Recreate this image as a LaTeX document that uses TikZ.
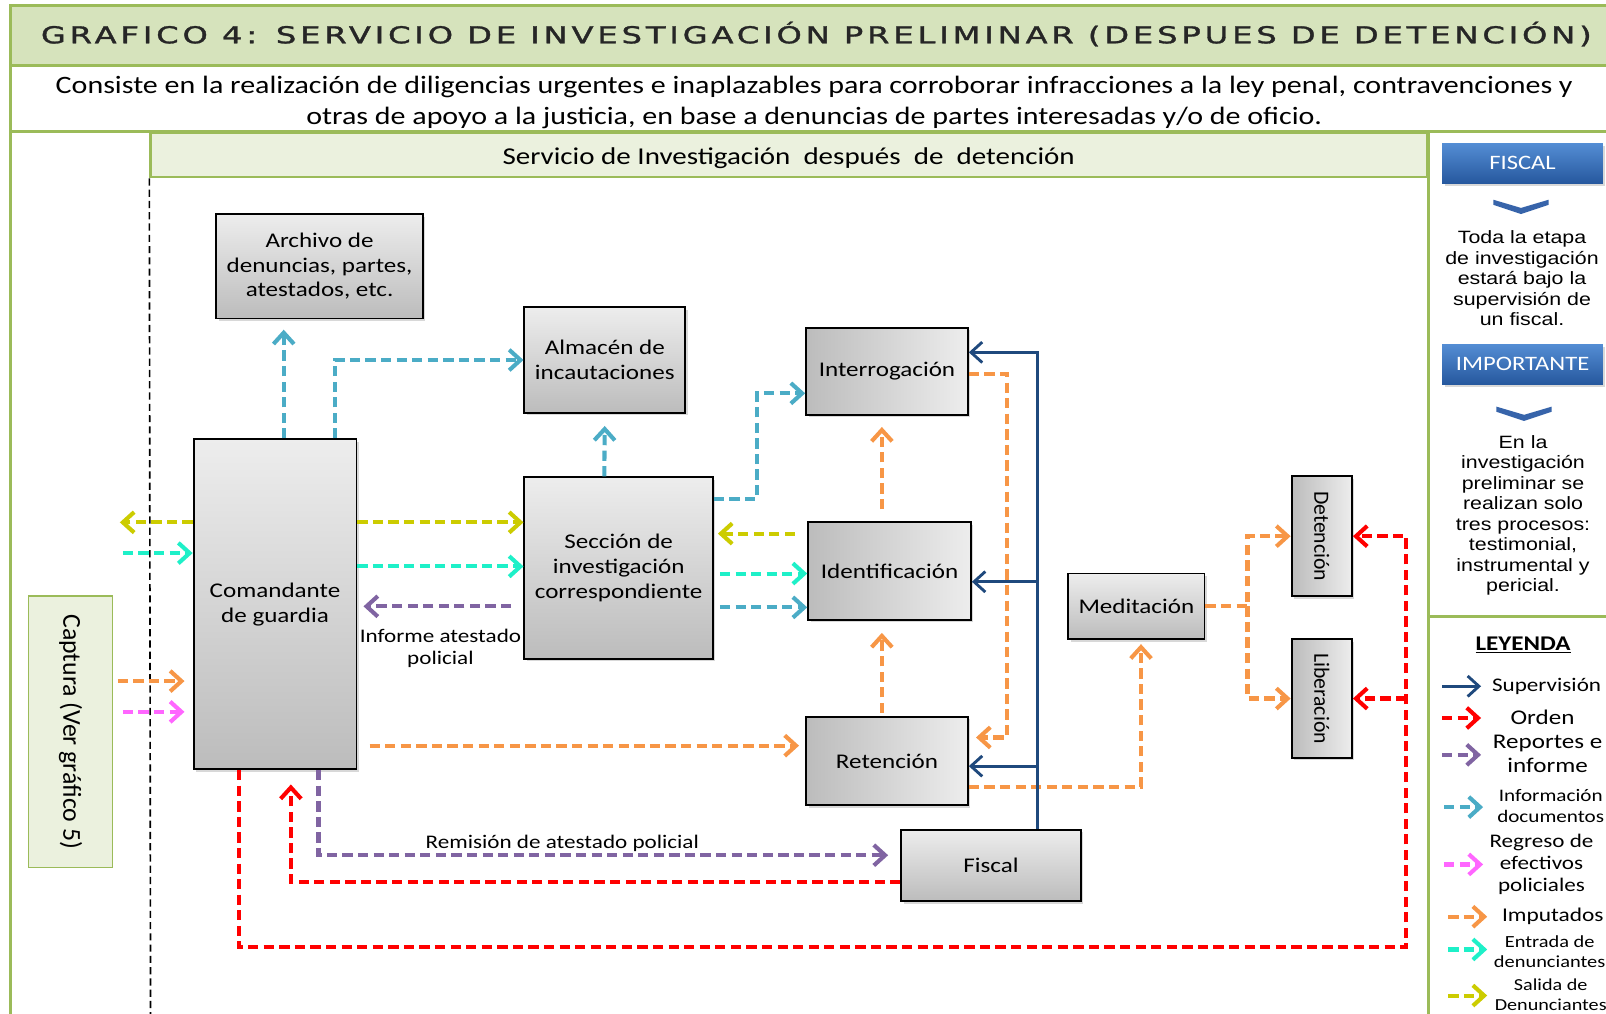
\documentclass[tikz,border=0pt]{standalone}
\usepackage{fontspec}
\usepackage{graphicx}
\setmainfont{Carlito}[FakeStretch=1.2]
\newfontfamily\plainfont{Carlito}
\newfontfamily\sidefont{Liberation Sans}[FakeStretch=1.2]
\newfontfamily\titlefont{DejaVu Sans}[LetterSpace=12,FakeBold=1.2]
\usetikzlibrary{arrows.meta,shadows}
\definecolor{gline}{RGB}{155,187,89}
\definecolor{bandgreen}{RGB}{214,227,188}
\definecolor{hdrgreen}{RGB}{235,241,222}
\definecolor{glight}{RGB}{237,237,237}
\definecolor{gdark}{RGB}{188,188,188}
\definecolor{cinfo}{RGB}{75,172,198}
\definecolor{csal}{RGB}{204,204,0}
\definecolor{cent}{RGB}{30,240,200}
\definecolor{crep}{RGB}{128,100,162}
\definecolor{cimp}{RGB}{247,150,70}
\definecolor{creg}{RGB}{255,102,255}
\definecolor{cord}{RGB}{255,0,0}
\definecolor{csup}{RGB}{31,73,125}
\definecolor{btntop}{RGB}{84,141,212}
\definecolor{btnbot}{RGB}{38,88,158}
\definecolor{chev}{RGB}{55,100,170}
\begin{document}
\begin{tikzpicture}[x=0.5pt,y=-0.5pt,
  gl/.style={draw=gline,line width=1.5pt},
  shad/.style={drop shadow={shadow xshift=1.2pt,shadow yshift=-1.2pt,opacity=0.3}},
  gbox/.style={draw=black,line width=0.9pt,inner sep=1pt,align=center,shad,
    font=\fontsize{10.2}{12}\selectfont},
  vsh/.style={top color=glight,bottom color=gdark},
  hsh/.style={left color=gdark,right color=glight},
  lk/.style={line width=2pt,dash pattern=on 5pt off 2.6pt,
    -{Straight Barb[length=5.5pt,width=10pt]}},
  info/.style={lk,draw=cinfo},
  sal/.style={lk,draw=csal},
  ent/.style={lk,draw=cent},
  rep/.style={lk,draw=crep},
  imp/.style={lk,draw=cimp},
  reg/.style={lk,draw=creg},
  ord/.style={lk,draw=cord},
  sup/.style={line width=1.4pt,draw=csup,-{Straight Barb[length=5.5pt,width=10pt]}},
  btn/.style={top color=btntop,bottom color=btnbot,text=white,shad,
    minimum width=78.5pt,minimum height=19.5pt,inner sep=0pt,
    font=\fontsize{10}{11}\selectfont},
  side/.style={align=center,inner sep=0pt,font=\sidefont\fontsize{8.7}{10}\selectfont},
  leg/.style={align=center,inner sep=0pt},
  lab/.style={align=center,inner sep=0pt}
]
\useasboundingbox (0,0) rectangle (1568,990);
\clip (0,0) rectangle (1568,990);
\fill[white] (0,0) rectangle (1568,990);

% frame
\filldraw[gl,fill=bandgreen] (10,5) rectangle (1600,64);
\draw[gl] (10,64) -- (10,1000);
\draw[gl] (10,128) -- (1600,128);
\draw[gl] (1395,128) -- (1395,1000);
\draw[gl] (1395,602) -- (1600,602);

\node[inner sep=0pt,text=black!85] (title) at (797,34)
  {\resizebox{757pt}{8.3pt}{\titlefont\rule{0pt}{.73em}\smash{GRAFICO 4: SERVICIO DE INVESTIGACIÓN PRELIMINAR (DESPUES DE DETENCIÓN)}}};
\node[lab,font=\fontsize{12.2}{15.5}\selectfont] (sub) at (795,100)
  {Consiste en la realización de diligencias urgentes e inaplazables para corroborar infracciones a la ley penal, contravenciones y\\
   otras de apoyo a la justicia, en base a denuncias de partes interesadas y/o de oficio.};

\node[draw=gline,fill=hdrgreen,line width=1.2pt,minimum width=623pt,minimum height=21.5pt,inner sep=0pt] (hdr) at (770,151.5) {};
\node[lab,font=\fontsize{11.8}{13}\selectfont] (hdrt) at (770,154)
  {Servicio de Investigación \ después \ de \ detención};
\draw[dash pattern=on 3.5pt off 2pt,line width=0.8pt] (hdr.south west) -- (147,1000);

% sidebar
\node[btn] (bfis) at (1486.5,159.5) {FISCAL};
\fill[chev] (1458,195) -- (1485,203) -- (1512,195) -- (1512,200) -- (1485,209) -- (1458,200) -- cycle;
\node[side] (tfis) at (1486,272) {Toda la etapa\\de investigación\\estará bajo la\\supervisión de\\un fiscal.};
\node[btn] (bimp) at (1486.5,355.5) {IMPORTANTE};
\fill[chev] (1461,397) -- (1488,405) -- (1515,397) -- (1515,402) -- (1488,411) -- (1461,402) -- cycle;
\node[side] (timp) at (1487,503) {En la\\investigación\\preliminar se\\realizan solo\\tres procesos:\\testimonial,\\instrumental y\\pericial.};

% legend
\node[leg,font=\bfseries\fontsize{10.2}{12}\selectfont] (ley) at (1487,630) {\underline{LEYENDA}};
\draw[sup] (1408,670) -- (1446,670);
\node[leg,font=\fontsize{9.4}{11}\selectfont] (l1) at (1510,670) {Supervisión};
\draw[ord] (1408,701) -- (1446,701);
\node[leg,font=\fontsize{10.2}{12}\selectfont] (l2) at (1506,700) {Orden};
\draw[rep] (1408,737) -- (1446,737);
\node[leg,font=\fontsize{10.2}{12}\selectfont] (l3) at (1511,736) {Reportes e\\informe};
\draw[info] (1410,788) -- (1448,788);
\node[leg,font=\fontsize{8.6}{10.5}\selectfont] (l4) at (1514,787) {Información\\documentos};
\draw[reg] (1410,844) -- (1448,844);
\node[leg,font=\fontsize{9.4}{10.8}\selectfont] (l5) at (1505,844) {Regreso de\\efectivos\\policiales};
\draw[imp] (1414,895) -- (1452,895);
\node[leg,font=\fontsize{9.5}{11}\selectfont] (l6) at (1516,895) {Imputados};
\draw[ent] (1414,927) -- (1452,927);
\node[leg,font=\fontsize{8.3}{10}\selectfont] (l7) at (1513,929) {Entrada de\\denunciantes};
\draw[sal] (1414,972) -- (1452,972);
\node[leg,font=\fontsize{8.2}{9.5}\selectfont] (l8) at (1514,971) {Salida de\\Denunciantes};

% nodes
\node[gbox,vsh,minimum width=101pt,minimum height=51pt] (arch) at (312,260) {Archivo de\\denuncias, partes,\\atestados, etc.};
\node[gbox,vsh,minimum width=78.5pt,minimum height=51.5pt] (alm) at (590.5,351.5) {Almacén de\\incautaciones};
\node[gbox,hsh,minimum width=79pt,minimum height=42.5pt] (int) at (866,362.5) {Interrogación};
\node[gbox,vsh,minimum width=79.5pt,minimum height=161pt] (com) at (268.5,590) {Comandante\\de guardia};
\node[gbox,vsh,minimum width=92pt,minimum height=88.5pt] (sec) at (604,554.5) {Sección de\\investigación\\correspondiente};
\node[gbox,hsh,minimum width=79.5pt,minimum height=47.5pt] (ide) at (868.5,557.5) {Identificación};
\node[gbox,vsh,minimum width=66.5pt,minimum height=32pt] (med) at (1109.5,592) {Meditación};
\node[gbox,hsh,minimum width=29.5pt,minimum height=58.5pt] (det) at (1290.5,523.5) {\rotatebox{-90}{\plainfont\fontsize{10.6}{12}\selectfont Detención}};
\node[gbox,hsh,minimum width=29.5pt,minimum height=58pt] (lib) at (1290.5,682) {\rotatebox{-90}{\plainfont\fontsize{10.6}{12}\selectfont Liberación}};
\node[gbox,hsh,minimum width=79pt,minimum height=43pt] (ret) at (866,743) {Retención};
\node[gbox,vsh,minimum width=87.5pt,minimum height=35pt] (fis) at (967.5,845) {Fiscal};
\node[draw=gline,fill=hdrgreen,line width=0.8pt,minimum width=41pt,minimum height=132.5pt,inner sep=0pt] (cap) at (69,714.5)
  {\rotatebox{-90}{\plainfont\fontsize{12.6}{14}\selectfont Captura (Ver gráfico 5)}};

% labels
\node[lab,font=\fontsize{9.4}{10.5}\selectfont] (linf) at (430,633) {Informe atestado\\policial};
\node[lab,font=\fontsize{9.4}{10.5}\selectfont] (lrem) at (549,823) {Remisión de atestado policial};

% info
\draw[info,shorten >=5pt] (277,0 |- com.north) -- (277,0 |- arch.south);
\draw[info] (327,0 |- com.north) |- (alm.west);
\draw[info,shorten >=6pt] (590,0 |- sec.north) -- (alm.south);
\draw[info] (sec.east |- 0,487) -- (739,487) -- (739,384) -- (int.west |- 0,384);
\draw[info,shorten <=3pt] (sec.east |- 0,593) -- (ide.west |- 0,593);
% salida
\coordinate (salout) at (117,510);
\draw[sal] (com.west |- salout) -- (salout);
\draw[sal] (com.east |- salout) -- (sec.west |- salout);
\draw[sal,shorten <=6pt,shorten >=2pt] (ide.west |- 0,521) -- (sec.east |- 0,521);
% entrada
\coordinate (entin) at (120,540);
\draw[ent] (entin) -- (com.west |- entin);
\draw[ent] (com.east |- 0,553) -- (sec.west |- 0,553);
\draw[ent,shorten <=3pt] (sec.east |- 0,560) -- (ide.west |- 0,560);
% reportes
\draw[rep,shorten <=6pt,shorten >=3pt] (sec.west |- 0,592) -- (com.east |- 0,592);
\draw[rep,shorten >=6pt] (311,0 |- com.south) |- (fis.west |- 0,835);
% imputados
\coordinate (impin) at (115,665);
\draw[imp,shorten >=4pt] (impin) -- (com.west |- impin);
\draw[imp,shorten <=6pt,shorten >=3pt] (com.east |- 0,728) -- (ret.west |- 0,728);
\draw[imp,shorten <=6pt,shorten >=5.5pt] (861,0 |- ide.north) -- (861,0 |- int.south);
\draw[imp,shorten <=1.5pt,shorten >=6pt] (861,0 |- ret.north) -- (861,0 |- ide.south);
\draw[imp,shorten >=3.5pt] (int.east |- 0,365) -- (983,365) -- (983,720) -- (ret.east |- 0,720);
\draw[imp,shorten >=2pt] (ret.east |- 0,768) -- (1114,768) -- (1114,0 |- med.south);
\draw[imp] (med.east) -- (1218,0 |- med.east) |- (det.west);
\draw[imp] (1218,0 |- med.east) |- (lib.west);
% regreso
\coordinate (regin) at (120,695);
\draw[reg,shorten >=4pt] (regin) -- (com.west |- regin);
% orden
\draw[ord,shorten >=7pt] (fis.west |- 0,861) -| (284,0 |- com.south);
\draw[ord] (233,0 |- com.south) -- (233,925) -- (1373,925) |- (det.east);
\draw[ord] (1373,0 |- lib.east) -- (lib.east);
% supervision
\draw[sup] (1013,0 |- fis.north) -- (1013,344) -- (int.east |- 0,344);
\draw[sup] (1013,568) -- (ide.east |- 0,568);
\draw[sup] (1013,748) -- (ret.east |- 0,748);
\end{tikzpicture}
\end{document}
